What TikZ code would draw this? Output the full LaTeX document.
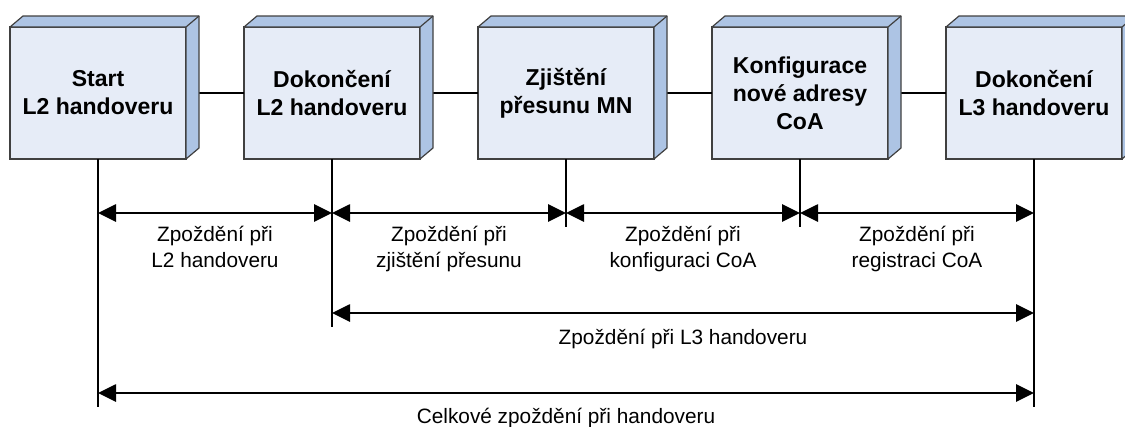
\documentclass[tikz,border=0pt]{standalone}
\usepackage{fontspec}
\setmainfont{Liberation Sans}
\usetikzlibrary{arrows.meta}

\definecolor{boxfront}{HTML}{E6ECF7}
\definecolor{boxside}{HTML}{ADC4E4}
\definecolor{boxedge}{HTML}{404040}

\tikzset{
  phase/.style={draw=boxedge, line width=1.2pt, fill=boxfront, inner sep=0pt, outer sep=0pt,
    minimum width=176pt, minimum height=132pt, align=center,
    font=\fontsize{23}{28}\selectfont\bfseries},
  face/.style={draw=boxedge, line width=1.2pt, fill=boxside, line join=round},
  link/.style={line width=2.7pt},
  span/.style={line width=2.7pt, {Triangle[length=18pt,width=17pt]}-{Triangle[length=18pt,width=17pt]}},
  spanlabel/.style={align=center, inner sep=0pt, font=\fontsize{20.8}{26}\selectfont}
}

\begin{document}
\begin{tikzpicture}[x=1pt, y=-1pt]
\useasboundingbox (0,0) rectangle (1125,426);

\def \gap {234}
\def \dx {13}
\def \dy {11}

% the five phases
\foreach \name/\txt [count=\i] in {start/{Start\\L2 handoveru}, l2done/{Dokončení\\L2 handoveru},
    detect/{Zjištění\\přesunu MN}, config/{Konfigurace\\nové adresy\\CoA}, l3done/{Dokončení\\L3 handoveru}}
  \node[phase] (\name) at ({98 + \gap*(\i-1)}, 93) {\txt};

\foreach \a/\b in {start/l2done, l2done/detect, detect/config, config/l3done}
  \draw[link] (\a) -- (\b);

% top and side of each box
\foreach \name in {start, l2done, detect, config, l3done}
{
  \draw[face] (\name.north west) -- ++(\dx,-\dy) -- ++(176,0) -- ++(0,132)
    -- (\name.south east) -- (\name.north east) -- cycle;
  \draw[face] (\name.north east) -- ++(\dx,-\dy);
}

% time marks below the boxes
\foreach \name/\len in {start/407, l2done/327, detect/227, config/227, l3done/407}
{
  \coordinate (\name-foot) at (\name.south |- 0,\len);
  \draw[link] (\name.south) -- (\name-foot);
}

\draw[span] (start.south |- 0,213) -- (l2done.south |- 0,213)
  node[spanlabel, midway, below=12pt] {Zpoždění při\\L2 handoveru};
\draw[span] (l2done.south |- 0,213) -- (detect.south |- 0,213)
  node[spanlabel, midway, below=12pt] {Zpoždění při\\zjištění přesunu};
\draw[span] (detect.south |- 0,213) -- (config.south |- 0,213)
  node[spanlabel, midway, below=12pt] {Zpoždění při\\konfiguraci CoA};
\draw[span] (config.south |- 0,213) -- (l3done.south |- 0,213)
  node[spanlabel, midway, below=12pt] {Zpoždění při\\registraci CoA};

\draw[span] (l2done.south |- 0,313) -- (l3done.south |- 0,313)
  node[spanlabel, midway, below=14.6pt] {Zpoždění při L3 handoveru};
\draw[span] (start.south |- 0,393) -- (l3done.south |- 0,393)
  node[spanlabel, midway, below=13.6pt] {Celkové zpoždění při handoveru};
\end{tikzpicture}
\end{document}
